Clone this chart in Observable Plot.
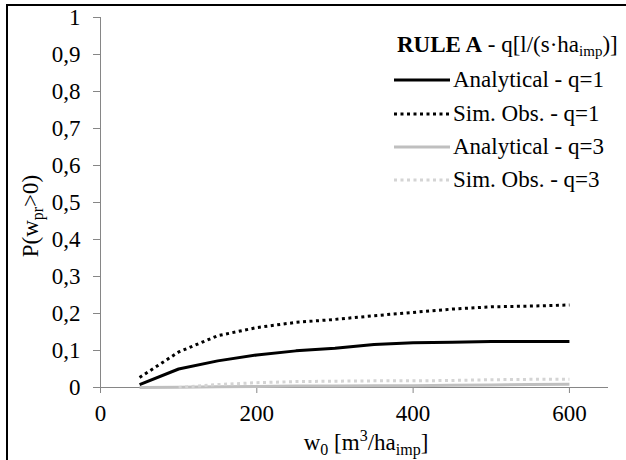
<!DOCTYPE html>
<html><head><meta charset="utf-8">
<script src="https://cdn.jsdelivr.net/npm/d3@7"></script>
<script src="https://cdn.jsdelivr.net/npm/@observablehq/plot@0.6"></script>
<style>
body{margin:0;background:#fff;}
#wrap{position:relative;width:626px;height:460px;overflow:hidden;background:#fff;}
#border{position:absolute;left:6px;top:4px;width:700px;height:600px;border-left:2px solid #000;border-top:2px solid #000;pointer-events:none;}
</style></head><body><div id="wrap"></div>
<script>
// ---- data ----
const w0 = [50, 100, 150, 200, 250, 300, 350, 400, 450, 500, 550, 600];
const analyticalQ1 = [0.008, 0.050, 0.072, 0.088, 0.099, 0.106, 0.116, 0.121, 0.122, 0.124, 0.124, 0.124];
const simObsQ1     = [0.027, 0.096, 0.140, 0.162, 0.176, 0.184, 0.194, 0.203, 0.212, 0.218, 0.220, 0.223];
const analyticalQ3 = [0.000, 0.001, 0.002, 0.003, 0.004, 0.004, 0.005, 0.005, 0.006, 0.007, 0.008, 0.009];
const simObsQ3     = [null, 0.000, 0.008, 0.013, 0.016, 0.017, 0.018, 0.018, 0.019, 0.021, 0.022, 0.022];
const seriesNames = ["Analytical - q=1", "Sim. Obs. - q=1", "Analytical - q=3", "Sim. Obs. - q=3"];
const seriesValues = [analyticalQ1, simObsQ1, analyticalQ3, simObsQ3];
const xTicks = [0, 200, 400, 600];
const yTicks = [0, 0.1, 0.2, 0.3, 0.4, 0.5, 0.6, 0.7, 0.8, 0.9, 1];

// styles
const seriesStroke = ["#000000", "#000000", "#bfbfbf", "#d4d4d4"];
const seriesDash = [null, "3,3.5", null, "3,3.5"];

const rows = [];
seriesNames.forEach((name, i) => {
  w0.forEach((x, j) => {
    const v = seriesValues[i][j];
    if (v != null) rows.push({series: name, x, y: v});
  });
});

const font = "'Liberation Serif', 'Times New Roman', serif";
const fs = 23, fsSub = 16;
const fmt = d => d === 0 ? "0" : d === 1 ? "1" : d3.format(".1f")(d).replace(".", ",");

const marks = [
  Plot.ruleX([0], {y1: 0, y2: 1, stroke: "#868686", strokeWidth: 1}),
  Plot.ruleY([0], {x1: 0, x2: 650, stroke: "#868686", strokeWidth: 1}),
  Plot.axisY({ticks: yTicks, tickSize: 7, tickPadding: 13, tickFormat: fmt, stroke: "#868686", fill: "#000", label: null, fontSize: fs}),
  Plot.axisX({ticks: xTicks, tickSize: 6, tickPadding: 11, stroke: "#868686", fill: "#000", label: null, fontSize: fs})
];
// draw gray series first, black on top
[2, 3, 0, 1].forEach(i => {
  marks.push(Plot.line(rows.filter(r => r.series === seriesNames[i]), {
    x: "x", y: "y", stroke: seriesStroke[i], strokeWidth: 3,
    strokeDasharray: seriesDash[i], strokeLinecap: "butt", strokeLinejoin: "round"
  }));
});

const plot = Plot.plot({
  width: 626, height: 460,
  marginLeft: 100, marginRight: 18, marginTop: 17, marginBottom: 73,
  style: {fontFamily: font, fontSize: fs + "px", color: "#000", background: "transparent"},
  x: {domain: [0, 650]},
  y: {domain: [0, 1]},
  marks
});

const svg = d3.select(plot);
svg.attr("font-family", font).attr("font-size", fs);

// axis labels
const xl = svg.append("text").attr("x", 366).attr("y", 450).attr("text-anchor", "middle").attr("fill", "#000");
xl.append("tspan").text("w");
xl.append("tspan").attr("font-size", fsSub).attr("dy", 5).text("0");
xl.append("tspan").attr("dy", -5).text(" [m");
xl.append("tspan").attr("font-size", fsSub).attr("dy", -9).text("3");
xl.append("tspan").attr("dy", 9).text("/ha");
xl.append("tspan").attr("font-size", fsSub).attr("dy", 5).text("imp");
xl.append("tspan").attr("dy", -5).text("]");

const yl = svg.append("text").attr("transform", "translate(38,216) rotate(-90)").attr("text-anchor", "middle").attr("fill", "#000");
yl.append("tspan").text("P(w");
yl.append("tspan").attr("font-size", fsSub).attr("dy", 5).text("pr");
yl.append("tspan").attr("dy", -5).text(">0)");

// legend
const lt = svg.append("text").attr("x", 397).attr("y", 52).attr("fill", "#000").attr("text-anchor", "start");
lt.append("tspan").attr("font-weight", "bold").text("RULE A");
lt.append("tspan").text(" - q[l/(s\u00b7ha");
lt.append("tspan").attr("font-size", 15).attr("dy", 4).text("imp");
lt.append("tspan").attr("dy", -4).text(")]");

const rowBase = [87, 121, 154, 187];
seriesNames.forEach((name, i) => {
  svg.append("line").attr("x1", 394).attr("x2", 450)
    .attr("y1", rowBase[i] - 7).attr("y2", rowBase[i] - 7)
    .attr("stroke", seriesStroke[i]).attr("stroke-width", 3)
    .attr("stroke-dasharray", seriesDash[i]);
  svg.append("text").attr("x", 453).attr("y", rowBase[i]).attr("fill", "#000")
    .attr("text-anchor", "start").text(name);
});

const wrap = document.getElementById("wrap");
wrap.appendChild(plot);
const b = document.createElement("div"); b.id = "border"; wrap.appendChild(b);
</script>
</body></html>
